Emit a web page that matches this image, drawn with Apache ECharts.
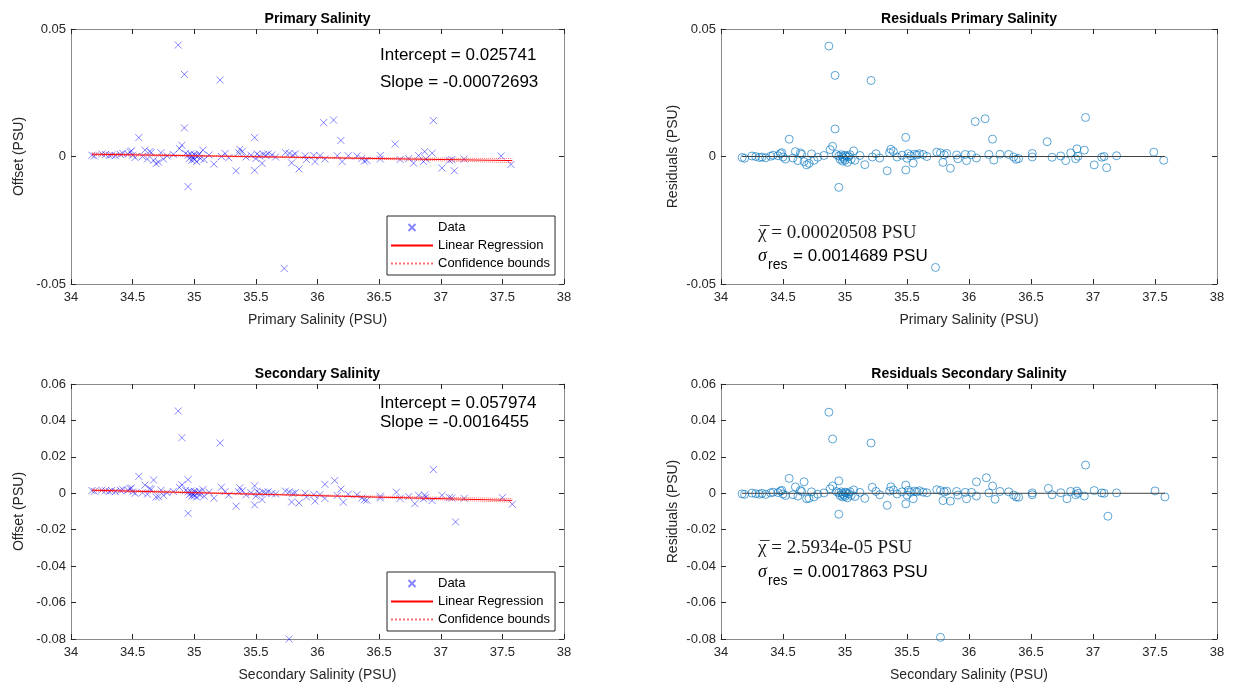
<!DOCTYPE html>
<html>
<head>
<meta charset="utf-8">
<script src="https://cdn.jsdelivr.net/npm/echarts@6/dist/echarts.min.js"></script>
<style>
html, body { margin: 0; padding: 0; background: #fff; }
#chart { width: 1233px; height: 686px; }
</style>
</head>
<body>
<div id="chart"></div>
<script>
// salinity of each sample (x) and the offsets / residuals
var primarySal = [34.17, 34.19, 34.25, 34.28, 34.31, 34.33, 34.36, 34.40, 34.42, 34.46,
    34.48, 34.49, 34.50, 34.52, 34.55, 34.58, 34.60, 34.62, 34.64, 34.65,
    34.67, 34.69, 34.71, 34.73, 34.75, 34.78, 34.83, 34.87, 34.88, 34.90,
    34.92, 34.92, 34.93, 34.95, 34.95, 34.96, 34.97, 34.98, 34.98, 34.99,
    35.00, 35.00, 35.01, 35.02, 35.03, 35.04, 35.05, 35.07, 35.08, 35.12,
    35.16, 35.21, 35.22, 35.25, 35.28, 35.34, 35.36, 35.37, 35.39, 35.42,
    35.46, 35.49, 35.49, 35.50, 35.51, 35.53, 35.55, 35.56, 35.58, 35.60,
    35.63, 35.66, 35.73, 35.74, 35.77, 35.79, 35.80, 35.82, 35.85, 35.90,
    35.91, 35.97, 35.98, 36.02, 36.05, 36.06, 36.13, 36.16, 36.19, 36.20,
    36.25, 36.32, 36.36, 36.38, 36.40, 36.51, 36.51, 36.63, 36.67, 36.74,
    36.78, 36.82, 36.86, 36.87, 36.88, 36.93, 36.94, 37.01, 37.07, 37.09,
    37.11, 37.19, 37.49, 37.57]
var primaryOffset = [0.0005, 0.0002, 0.0010, 0.0008, 0.0004, 0.0006, 0.0003, 0.0008, 0.0012, 0.0010,
    0.0018, 0.0022, 0.0005, -0.0004, 0.0074, 0.0000, 0.0025, -0.0010, 0.0020, 0.0015,
    -0.0015, -0.0028, -0.0022, 0.0015, -0.0010, 0.0002, 0.0008, 0.0437, 0.0031, 0.0044,
    0.0322, 0.0112, 0.0012, -0.0118, 0.0005, -0.0008, 0.0010, -0.0015, 0.0002, -0.0005,
    0.0008, -0.0012, 0.0004, -0.0020, 0.0002, 0.0010, -0.0008, 0.0025, -0.0012, 0.0006,
    -0.0030, 0.0300, 0.0000, 0.0012, -0.0005, -0.0056, 0.0015, 0.0028, 0.0020, -0.0002,
    0.0005, 0.0074, -0.0054, -0.0008, 0.0010, 0.0002, -0.0027, 0.0008, 0.0005, 0.0010,
    0.0006, -0.0002, -0.0439, 0.0015, 0.0012, -0.0025, 0.0005, 0.0010, -0.0049, 0.0003,
    -0.0012, 0.0004, -0.0020, 0.0003, 0.0133, -0.0010, 0.0143, 0.0003, 0.0063, -0.0020,
    0.0003, 0.0002, -0.0008, -0.0018, -0.0015, 0.0004, -0.0010, 0.0049, -0.0012, -0.0008,
    -0.0026, 0.0004, -0.0020, 0.0019, -0.0010, 0.0013, 0.0141, -0.0045, -0.0015, -0.0012,
    -0.0056, -0.0010, 0.0002, -0.0031]
var primaryResid = [-0.0004, -0.0007, 0.0002, 0.0000, -0.0004, -0.0002, -0.0005, 0.0001, 0.0005, 0.0003,
    0.0011, 0.0015, -0.0002, -0.0010, 0.0068, -0.0006, 0.0019, -0.0016, 0.0014, 0.0009,
    -0.0020, -0.0033, -0.0027, 0.0010, -0.0015, -0.0003, 0.0004, 0.0433, 0.0027, 0.0040,
    0.0318, 0.0108, 0.0008, -0.0121, 0.0002, -0.0011, 0.0007, -0.0018, -0.0001, -0.0008,
    0.0005, -0.0015, 0.0001, -0.0023, -0.0001, 0.0007, -0.0011, 0.0022, -0.0015, 0.0004,
    -0.0032, 0.0298, -0.0002, 0.0011, -0.0006, -0.0056, 0.0015, 0.0028, 0.0020, -0.0002,
    0.0005, 0.0075, -0.0053, -0.0007, 0.0011, 0.0003, -0.0026, 0.0009, 0.0006, 0.0011,
    0.0008, 0.0000, -0.0435, 0.0017, 0.0014, -0.0023, 0.0007, 0.0012, -0.0046, 0.0006,
    -0.0009, 0.0008, -0.0016, 0.0007, 0.0137, -0.0006, 0.0148, 0.0008, 0.0068, -0.0014,
    0.0009, 0.0008, -0.0002, -0.0011, -0.0008, 0.0012, -0.0002, 0.0058, -0.0003, 0.0002,
    -0.0016, 0.0014, -0.0009, 0.0030, 0.0001, 0.0025, 0.0153, -0.0033, -0.0003, 0.0000,
    -0.0044, 0.0003, 0.0017, -0.0015]

var secondarySal = [34.17, 34.19, 34.25, 34.28, 34.31, 34.33, 34.36, 34.40, 34.42, 34.46,
    34.48, 34.49, 34.50, 34.52, 34.55, 34.58, 34.60, 34.62, 34.64, 34.65,
    34.67, 34.69, 34.71, 34.73, 34.75, 34.78, 34.83, 34.87, 34.88, 34.90,
    34.90, 34.95, 34.93, 34.95, 34.95, 34.96, 34.97, 34.98, 34.98, 34.99,
    35.00, 35.00, 35.01, 35.02, 35.03, 35.04, 35.05, 35.07, 35.08, 35.12,
    35.16, 35.21, 35.22, 35.25, 35.28, 35.34, 35.36, 35.37, 35.39, 35.42,
    35.46, 35.49, 35.49, 35.50, 35.51, 35.53, 35.55, 35.56, 35.58, 35.60,
    35.63, 35.66, 35.77, 35.74, 35.77, 35.79, 35.80, 35.82, 35.85, 35.90,
    35.91, 35.97, 35.98, 36.02, 36.06, 36.06, 36.14, 36.16, 36.19, 36.21,
    36.25, 36.32, 36.36, 36.38, 36.40, 36.51, 36.51, 36.64, 36.67, 36.74,
    36.79, 36.82, 36.86, 36.87, 36.88, 36.93, 36.94, 37.01, 37.07, 37.09,
    37.12, 37.19, 37.50, 37.58]
var secondaryOffset = [0.0015, 0.0011, 0.0017, 0.0014, 0.0010, 0.0015, 0.0009, 0.0016, 0.0020, 0.0017,
    0.0025, 0.0029, 0.0008, 0.0000, 0.0093, 0.0003, 0.0045, -0.0005, 0.0026, 0.0020,
    0.0073, -0.0021, -0.0019, 0.0017, -0.0011, 0.0003, 0.0010, 0.0452, 0.0032, 0.0047,
    0.0305, 0.0075, 0.0016, -0.0110, 0.0008, -0.0008, 0.0012, -0.0016, 0.0002, -0.0006,
    0.0010, -0.0014, 0.0006, -0.0021, 0.0000, 0.0011, -0.0009, 0.0020, -0.0016, 0.0006,
    -0.0027, 0.0276, 0.0033, 0.0009, -0.0010, -0.0071, 0.0009, 0.0030, 0.0014, -0.0008,
    0.0003, 0.0041, -0.0064, -0.0015, 0.0011, 0.0000, -0.0035, 0.0006, 0.0002, 0.0008,
    -0.0001, -0.0004, -0.0800, 0.0012, 0.0007, -0.0048, -0.0001, 0.0003, -0.0053, 0.0000,
    -0.0020, -0.0007, -0.0043, -0.0007, 0.0049, -0.0028, 0.0070, -0.0012, 0.0023, -0.0049,
    -0.0005, -0.0008, -0.0026, -0.0036, -0.0038, -0.0016, -0.0026, 0.0006, -0.0028, -0.0018,
    -0.0057, -0.0011, -0.0030, -0.0010, -0.0022, -0.0040, 0.0130, -0.0011, -0.0023, -0.0026,
    -0.0157, -0.0028, -0.0024, -0.0060]
var secondaryResid = [-0.0003, -0.0006, 0.0001, -0.0002, -0.0005, 0.0000, -0.0006, 0.0002, 0.0006, 0.0004,
    0.0012, 0.0016, -0.0004, -0.0012, 0.0082, -0.0008, 0.0035, -0.0015, 0.0016, 0.0010,
    0.0063, -0.0030, -0.0028, 0.0008, -0.0020, -0.0005, 0.0002, 0.0445, 0.0025, 0.0040,
    0.0298, 0.0068, 0.0010, -0.0115, 0.0003, -0.0012, 0.0008, -0.0020, -0.0002, -0.0010,
    0.0006, -0.0018, 0.0002, -0.0025, -0.0003, 0.0008, -0.0012, 0.0018, -0.0018, 0.0005,
    -0.0028, 0.0276, 0.0033, 0.0010, -0.0008, -0.0066, 0.0012, 0.0035, 0.0018, -0.0004,
    0.0008, 0.0045, -0.0058, -0.0010, 0.0016, 0.0005, -0.0030, 0.0012, 0.0008, 0.0014,
    0.0006, 0.0003, -0.0791, 0.0020, 0.0015, -0.0040, 0.0008, 0.0012, -0.0043, 0.0010,
    -0.0010, 0.0005, -0.0030, 0.0005, 0.0063, -0.0015, 0.0085, 0.0002, 0.0040, -0.0033,
    0.0010, 0.0008, -0.0010, -0.0020, -0.0022, 0.0002, -0.0008, 0.0027, -0.0008, 0.0003,
    -0.0030, 0.0010, -0.0008, 0.0012, 0.0000, -0.0015, 0.0155, 0.0015, 0.0002, 0.0000,
    -0.0126, 0.0002, 0.0013, -0.0020]

// regression lines, confidence bounds and the residual zero line
var fitX = [34.17, 37.58]
var primaryFit = [0.0009, -0.0016]
var secondaryFit = [0.0017, -0.0039]
var zeroLine = [0, 0]
var boundX = [34.17, 35.0, 35.7, 36.5, 37.58]
var primaryUpper = [0.0014, 0.0005, -0.00005, -0.0005, -0.0008]
var primaryLower = [0.0004, 0.0001, -0.00035, -0.0011, -0.0024]
var secondaryUpper = [0.0023, 0.0007, -0.0005, -0.0016, -0.0029]
var secondaryLower = [0.0011, 0.0001, -0.0009, -0.0024, -0.0049]

var chart = echarts.init(document.getElementById('chart'), null, {renderer: 'canvas'})

const zip = (xs, ys) => xs.map((x, i) => [x, ys[i]])

const FONT = 'Liberation Sans, Arial, Helvetica, sans-serif'
const AX = '#262626'
const BOX = '#8a8a8a'
const XMARK = 'path://M0 0L10 10M10 0L0 10'

const panels = [
    {left: 71, top: 29, width: 493, ymin: -0.05, ymax: 0.05, step: 0.05,
     title: 'Primary Salinity', xName: 'Primary Salinity (PSU)', yName: 'Offset (PSU)', yGap: 45},
    {left: 721, top: 29, width: 496, ymin: -0.05, ymax: 0.05, step: 0.05,
     title: 'Residuals Primary Salinity', xName: 'Primary Salinity (PSU)', yName: 'Residuals (PSU)', yGap: 41},
    {left: 71, top: 384, width: 493, ymin: -0.08, ymax: 0.06, step: 0.02,
     title: 'Secondary Salinity', xName: 'Secondary Salinity (PSU)', yName: 'Offset (PSU)', yGap: 45},
    {left: 721, top: 384, width: 496, ymin: -0.08, ymax: 0.06, step: 0.02,
     title: 'Residuals Secondary Salinity', xName: 'Secondary Salinity (PSU)', yName: 'Residuals (PSU)', yGap: 41}
]
const H = 255

let grids = [], xAxes = [], yAxes = [], texts = []
panels.forEach((p, i) => {
    grids.push({left: p.left, top: p.top, width: p.width, height: H, containLabel: false})
    const line = {show: true, onZero: false, lineStyle: {color: BOX, width: 1}}
    const tick = {show: true, inside: true, length: 5, lineStyle: {color: AX, width: 1}}
    xAxes.push({
        gridIndex: i, type: 'value', position: 'bottom', min: 34, max: 38, interval: 0.5,
        axisLine: line, axisTick: tick, splitLine: {show: false},
        axisLabel: {color: AX, fontFamily: FONT, fontSize: 13, margin: 7},
        name: p.xName, nameLocation: 'middle', nameGap: 29,
        nameTextStyle: {color: AX, fontFamily: FONT, fontSize: 14}
    })
    yAxes.push({
        gridIndex: i, type: 'value', position: 'left', min: p.ymin, max: p.ymax, interval: p.step,
        axisLine: line, axisTick: tick, splitLine: {show: false},
        axisLabel: {color: AX, fontFamily: FONT, fontSize: 13, margin: 5},
        name: p.yName, nameLocation: 'middle', nameGap: p.yGap, nameRotate: 90,
        nameTextStyle: {color: AX, fontFamily: FONT, fontSize: 14}
    })
    texts.push({type: 'text', x: p.left + p.width / 2, y: p.top - 10, silent: true,
        style: {text: p.title, font: 'bold 14px ' + FONT, fill: '#000', align: 'center', verticalAlign: 'middle'}})
})
// mirrored top / right axes for the box ticks
panels.forEach((p, i) => {
    const line = {show: true, onZero: false, lineStyle: {color: BOX, width: 1}}
    const tick = {show: true, inside: true, length: 5, lineStyle: {color: AX, width: 1}}
    xAxes.push({gridIndex: i, type: 'value', position: 'top', min: 34, max: 38, interval: 0.5,
        axisLine: line, axisTick: tick, axisLabel: {show: false}, splitLine: {show: false}})
    yAxes.push({gridIndex: i, type: 'value', position: 'right', min: p.ymin, max: p.ymax, interval: p.step,
        axisLine: line, axisTick: tick, axisLabel: {show: false}, splitLine: {show: false}})
})

const crossSeries = (idx, xs, ys) => ({
    name: 'Data', type: 'scatter', xAxisIndex: idx, yAxisIndex: idx,
    symbol: XMARK, symbolSize: 7, data: zip(xs, ys),
    itemStyle: {color: 'none', borderColor: 'rgba(0,0,255,0.6)', borderWidth: 1}
})
const circleSeries = (idx, xs, ys) => ({
    name: 'Residuals', type: 'scatter', xAxisIndex: idx, yAxisIndex: idx,
    symbol: 'circle', symbolSize: 8, data: zip(xs, ys),
    itemStyle: {color: 'rgba(0,0,0,0)', borderColor: 'rgba(0,114,189,0.8)', borderWidth: 1}
})
const lineSeries = (idx, name, xs, ys, style) => ({
    name: name, type: 'line', xAxisIndex: idx, yAxisIndex: idx, symbol: 'none',
    data: zip(xs, ys), lineStyle: style, itemStyle: {color: style.color}, silent: true, z: 3
})

const fitStyle = {color: '#ff0000', width: 1}
const boundStyle = {color: 'rgba(255,60,60,0.75)', width: 1, type: 'dotted'}
const zeroStyle = {color: '#404040', width: 1}

const series = [
    crossSeries(0, primarySal, primaryOffset),
    lineSeries(0, 'Linear Regression', fitX, primaryFit, fitStyle),
    lineSeries(0, 'Confidence bounds', boundX, primaryUpper, boundStyle),
    lineSeries(0, 'Confidence bounds', boundX, primaryLower, boundStyle),
    lineSeries(1, 'zero', fitX, zeroLine, zeroStyle),
    circleSeries(1, primarySal, primaryResid),
    crossSeries(2, secondarySal, secondaryOffset),
    lineSeries(2, 'Linear Regression', fitX, secondaryFit, fitStyle),
    lineSeries(2, 'Confidence bounds', boundX, secondaryUpper, boundStyle),
    lineSeries(2, 'Confidence bounds', boundX, secondaryLower, boundStyle),
    lineSeries(3, 'zero', fitX, zeroLine, zeroStyle),
    circleSeries(3, secondarySal, secondaryResid)
]

// fit annotations
const ann = (x, y, t, font, fill) => ({type: 'text', x: x, y: y, silent: true,
    style: {text: t, font: font, fill: fill || '#000', align: 'left', verticalAlign: 'middle'}})
const SANS17 = '17px ' + FONT
const SERIF = '19px "Liberation Serif", "DejaVu Serif", serif'
const SIGMA = 'italic 18px "Liberation Serif", serif'
texts.push(ann(380, 55, 'Intercept = 0.025741', SANS17))
texts.push(ann(380, 82, 'Slope = -0.00072693', SANS17))
texts.push(ann(380, 403, 'Intercept = 0.057974', SANS17))
texts.push(ann(380, 422, 'Slope = -0.0016455', SANS17))

texts.push(ann(758, 233, 'χ = 0.00020508 PSU', SERIF, '#1a1a1a'))
texts.push(ann(760, 234, '¯', SERIF, '#1a1a1a'))
texts.push(ann(758, 256, 'σ', SIGMA))
texts.push(ann(768, 265, 'res', '14px ' + FONT))
texts.push(ann(793, 256, '= 0.0014689 PSU', SANS17))

texts.push(ann(758, 548, 'χ = 2.5934e-05 PSU', SERIF, '#1a1a1a'))
texts.push(ann(760, 549, '¯', SERIF, '#1a1a1a'))
texts.push(ann(758, 572, 'σ', SIGMA))
texts.push(ann(768, 581, 'res', '14px ' + FONT))
texts.push(ann(793, 572, '= 0.0017863 PSU', SANS17))

const legendBase = (top) => ({
    orient: 'vertical', left: 387, top: top, selectedMode: false,
    data: [
        {name: 'Data'},
        {name: 'Linear Regression', itemStyle: {opacity: 0}},
        {name: 'Confidence bounds', itemStyle: {opacity: 0}}
    ],
    itemWidth: 42, itemHeight: 7, itemGap: 5,
    padding: [5, 5, 5, 3], borderColor: '#262626', borderWidth: 1, backgroundColor: '#fff',
    textStyle: {color: '#000', fontFamily: FONT, fontSize: 13}
})

chart.setOption({
    animation: false,
    backgroundColor: '#fff',
    grid: grids,
    xAxis: xAxes,
    yAxis: yAxes,
    legend: [legendBase(216), legendBase(572)],
    graphic: texts,
    series: series
})
</script>
</body>
</html>
